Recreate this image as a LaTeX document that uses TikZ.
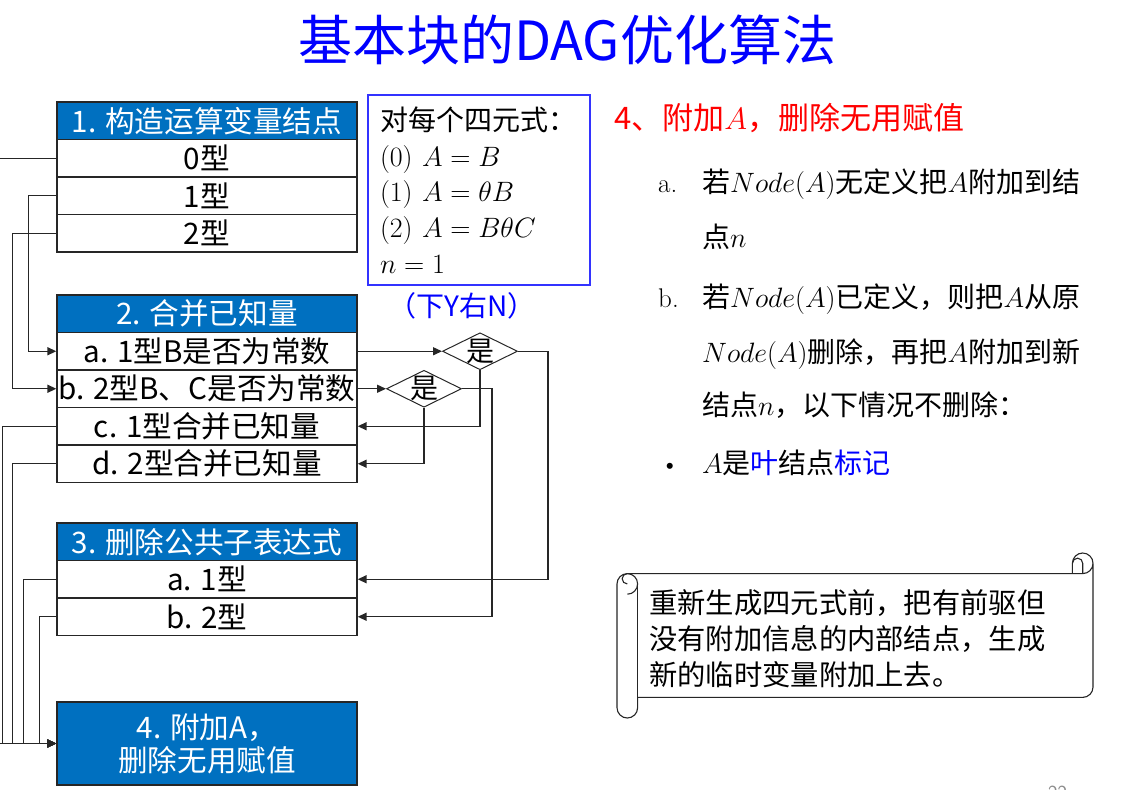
\RequirePackage{fix-cm}
\documentclass[tikz,border=0pt]{standalone}
\usepackage{fontspec}
\newfontfamily\cjk{Noto Sans CJK SC}
\usetikzlibrary{arrows.meta,shapes.geometric}

\definecolor{hdrblue}{RGB}{0,112,192}
\definecolor{ttlblue}{RGB}{0,0,255}
\definecolor{frameblue}{RGB}{51,51,255}
\definecolor{ink}{RGB}{38,38,38}

\tikzset{
  cell/.style={rectangle, draw=ink, line width=1.3pt, fill=white, minimum width=300pt,
    minimum height=37.5pt, inner sep=0pt, text=black, font=\cjk\fontsize{29.6}{34}\selectfont},
  hdr/.style={cell, fill=hdrblue, text=white},
  test/.style={diamond, draw=ink, line width=1pt, minimum width=75pt, minimum height=37pt, inner sep=0pt},
  wire/.style={draw=ink, line width=1.4pt},
  arr/.style={wire, -{Triangle[length=9pt,width=8pt]}},
  body/.style={inner sep=0pt, anchor=base west, font=\cjk\fontsize{28}{34}\selectfont},
  lbl/.style={inner sep=0pt, anchor=base west, font=\rmfamily\fontsize{27}{30}\selectfont},
  scroll/.style={draw=ink, line width=1.1pt},
}

\begin{document}
\begin{tikzpicture}[x=1pt,y=-1pt]
\useasboundingbox (0,0) rectangle (1147,789);

% title
\node[font=\cjk\fontsize{54}{60}\selectfont, text=ttlblue] (title) at (567,40) {基本块的DAG优化算法};

% step 1
\node[hdr]  (g1) at (207,120.75) {1. 构造运算变量结点};
\node[cell] (t0) at (207,158.25) {0型};
\node[cell] (t1) at (207,195.75) {1型};
\node[cell] (t2) at (207,233.25) {2型};

% step 2
\node[hdr]  (g2) at (207,313.75) {2. 合并已知量};
\node[cell] (ca) at (207,351.25) {a. 1型B是否为常数};
\node[cell] (cb) at (207,388.75) {b. 2型B、C是否为常数};
\node[cell] (cc) at (207,426.25) {c. 1型合并已知量};
\node[cell] (cd) at (207,463.75) {d. 2型合并已知量};

% step 3
\node[hdr]  (g3) at (207,541.75) {3. 删除公共子表达式};
\node[cell] (sa) at (207,579.25) {a. 1型};
\node[cell] (sb) at (207,616.75) {b. 2型};

% step 4
\node[hdr, minimum height=83pt, align=center, font=\cjk\fontsize{29.6}{33}\selectfont] (g4) at (207,743.5) {4. 附加A，\\删除无用赋值};

% decisions
\node[test, label={[font=\cjk\fontsize{28}{30}\selectfont, inner sep=0pt]center:是}] (q1) at (480,351.25) {};
\node[test, label={[font=\cjk\fontsize{28}{30}\selectfont, inner sep=0pt]center:是}] (q2) at (424,388.75) {};
\node[text=ttlblue, font=\cjk\fontsize{28}{30}\selectfont, inner sep=0pt] (hint) at (462,306) {（下Y右N）};

\draw[arr] (ca.east) -- (q1.west);
\draw[arr] (cb.east) -- (q2.west);
\draw[arr] (q1.south) |- (cc.east);
\draw[arr] (q2.south) |- (cd.east);
\draw[arr] (q1.east) -- ++(30,0) |- (sa.east);
\draw[arr] (q2.east) -- ++(30,0) |- (sb.east);

% left-hand routing
\draw[arr] (t1.west) -- ++(-28,0) |- (ca.west);
\draw[arr] (t2.west) -- ++(-44,0) |- (cb.west);
\draw[arr] (t0.west) -- ++(-61,0) |- (g4.west);
\draw[arr] (cc.west) -- ++(-54,0) |- (g4.west);
\draw[arr] (cd.west) -- ++(-44,0) |- (g4.west);
\draw[arr] (sa.west) -- ++(-33,0) |- (g4.west);
\draw[arr] (sb.west) -- ++(-17,0) |- (g4.west);

% quadruple forms
\node[draw=frameblue, line width=1.8pt, minimum width=222pt, minimum height=190pt, text width=198pt,
  inner xsep=12pt, inner ysep=0pt, align=left, font=\cjk\fontsize{28}{35.75}\selectfont] (rules) at (479,190)
  {对每个四元式：\\$(0)\ A=B$\\$(1)\ A=\theta B$\\$(2)\ A=B\theta C$\\$n=1$};

% step 4 explanation
\node[body, text=red, font=\cjk\fontsize{31}{34}\selectfont] (h4) at (614,129) {4、附加$A$，删除无用赋值};
\node[lbl]  (ia)  at (658,192) {a.};
\node[body] (ia1) at (702,192) {若$Node(A)$无定义把$A$附加到结};
\node[body] (ia2) at (702,247) {点$n$};
\node[lbl]  (ib)  at (658,307) {b.};
\node[body] (ib1) at (702,307) {若$Node(A)$已定义，则把$A$从原};
\node[body] (ib2) at (702,362) {$Node(A)$删除，再把$A$附加到新};
\node[body] (ib3) at (702,415) {结点$n$，以下情况不删除：};
\node[lbl]  (ic)  at (660,473) {\textbullet};
\node[body] (ic1) at (702,473) {$A$是\textcolor{ttlblue}{叶}结点\textcolor{ttlblue}{标记}};

% scroll
\draw[scroll, fill=white] (617,583.9) arc[start angle=180,end angle=270,radius=10.3]
  -- (1082.7,573.6) arc[start angle=90,end angle=0,radius=10.3]
  -- (1093,687.1) arc[start angle=0,end angle=90,radius=10.3]
  -- (637.6,697.4) -- (637.6,707.7) arc[start angle=0,end angle=180,radius=10.3] -- cycle;
\draw[scroll] (1072.4,573.6) -- (1072.4,563.3) arc[start angle=180,end angle=360,radius=10.3];
\draw[scroll] (1082.7,573.6) -- (1082.7,563.3) arc[start angle=0,end angle=-180,radius=5.15];
\draw[scroll] (627.3,594.2) arc[start angle=90,end angle=-90,radius=10.3]
  arc[start angle=270,end angle=90,radius=5.15];
\draw[scroll] (637.6,583.9) -- (637.6,697.4);
\node[anchor=west, align=left, inner sep=0pt, font=\cjk\fontsize{28.3}{36}\selectfont] (note) at (649,639)
  {重新生成四元式前，把有前驱但\\没有附加信息的内部结点，生成\\新的临时变量附加上去。};

% page number
\node[anchor=base, inner sep=0pt, text=black!45, font=\sffamily\fontsize{20}{24}\selectfont] (pg) at (1057.5,799) {22};
\end{tikzpicture}
\end{document}
